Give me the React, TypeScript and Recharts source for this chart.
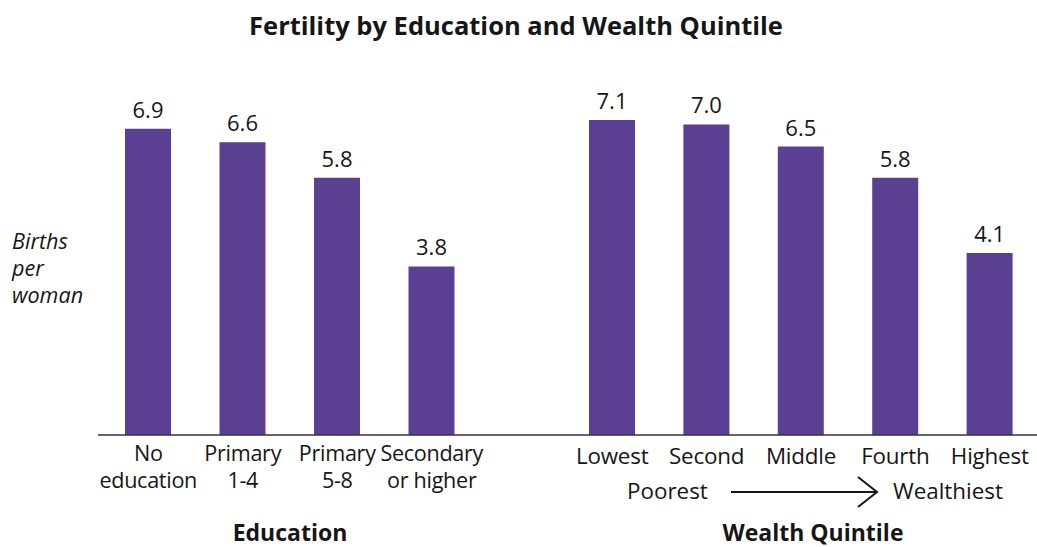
import { BarChart, Bar, XAxis, YAxis, LabelList } from "recharts";

const eduCats = ["No education", "Primary 1-4", "Primary 5-8", "Secondary or higher"];
const eduTickLines = [
	["No", "education"],
	["Primary", "1-4"],
	["Primary", "5-8"],
	["Secondary", "or higher"],
];
const eduValues = [6.9, 6.6, 5.8, 3.8];

const wealthCats = ["Lowest", "Second", "Middle", "Fourth", "Highest"];
const wealthValues = [7.1, 7.0, 6.5, 5.8, 4.1];

const yLabelLines = ["Births", "per", "woman"];

const yDomain = [0, 8];

const FONT = "'Open Sans', 'DejaVu Sans', sans-serif";
const BAR = "#5a3f92";
const INK = "#161616";

const eduData = eduCats.map((name, i) => ({ name, value: eduValues[i] }));
const wealthData = wealthCats.map((name, i) => ({ name, value: wealthValues[i] }));

const fmt = (v: unknown) => Number(v).toFixed(1);

// two-line category labels, one <text> per tick
const EduTick = ({ x, y, payload, index }: any) => {
	const lines = eduTickLines[index] ?? [String(payload?.value ?? "")];
	return (
		<text
			x={x}
			y={y + 26}
			textAnchor="middle"
			fontSize={21.6}
			letterSpacing={-0.3}
			fontFamily={FONT}
			fill={INK}
		>
			{lines.map((ln, k) => (
				<tspan key={k} x={x} dy={k === 0 ? 0 : 27}>
					{ln}
				</tspan>
			))}
		</text>
	);
};

const WealthTick = ({ x, y, payload }: any) => (
	<text
		x={x}
		y={y + 29}
		textAnchor="middle"
		fontSize={22.4}
		letterSpacing={-0.2}
		fontFamily={FONT}
		fill={INK}
	>
		{payload.value}
	</text>
);

const axisLine = { stroke: "#333", strokeWidth: 1.6 };

export default function App() {
	return (
		<div
			style={{
				position: "absolute",
				left: 0,
				top: 0,
				width: 1037,
				height: 547,
				overflow: "hidden",
				background: "#fff",
				fontFamily: FONT,
			}}
		>
			<div style={{ position: "absolute", left: 0, top: 0 }}>
				<BarChart
					width={565}
					height={547}
					data={eduData}
					margin={{ top: 80, right: 0, left: 98, bottom: 0 }}
				>
					<XAxis
						dataKey="name"
						height={112}
						padding={{ left: 3, right: 86 }}
						tickSize={0}
						tickMargin={0}
						tickLine={false}
						axisLine={axisLine}
						interval={0}
						tick={<EduTick />}
					/>
					<YAxis hide domain={yDomain} />
					<Bar dataKey="value" fill={BAR} barSize={46} isAnimationActive={false}>
						<LabelList
							dataKey="value"
							position="top"
							offset={11}
							formatter={fmt}
							style={{ fontSize: 22, fontFamily: FONT, fill: INK }}
						/>
					</Bar>
				</BarChart>
			</div>

			<div style={{ position: "absolute", left: 565, top: 0 }}>
				<BarChart
					width={472}
					height={547}
					data={wealthData}
					margin={{ top: 80, right: 0, left: 0, bottom: 0 }}
				>
					<XAxis
						dataKey="name"
						height={112}
						tickSize={0}
						tickMargin={0}
						tickLine={false}
						axisLine={axisLine}
						interval={0}
						tick={<WealthTick />}
					/>
					<YAxis hide domain={yDomain} />
					<Bar dataKey="value" fill={BAR} barSize={46} isAnimationActive={false}>
						<LabelList
							dataKey="value"
							position="top"
							offset={11}
							formatter={fmt}
							style={{ fontSize: 22, fontFamily: FONT, fill: INK }}
						/>
					</Bar>
				</BarChart>
			</div>

			<svg
				width={1037}
				height={547}
				style={{ position: "absolute", left: 0, top: 0, pointerEvents: "none" }}
				fontFamily={FONT}
				fill={INK}
			>
				<text x={516} y={35} textAnchor="middle" fontSize={25.5} fontWeight={700}>
					Fertility by Education and Wealth Quintile
				</text>

				<text x={12} y={249} fontSize={21.6} fontStyle="italic">
					{yLabelLines.map((ln, k) => (
						<tspan key={k} x={12} dy={k === 0 ? 0 : 27}>
							{ln}
						</tspan>
					))}
				</text>

				<text x={627} y={499} fontSize={22.4}>Poorest</text>
				<text x={893} y={499} fontSize={22.4}>Wealthiest</text>
				<line x1={731} y1={492} x2={876} y2={492} stroke={INK} strokeWidth={2} />
				<polyline points="858,477 877,492 858,507" fill="none" stroke={INK} strokeWidth={2} />

				<text x={290} y={541} textAnchor="middle" fontSize={23} fontWeight={700}>Education</text>
				<text x={813} y={541} textAnchor="middle" fontSize={23} fontWeight={700}>Wealth Quintile</text>
			</svg>
		</div>
	);
}
